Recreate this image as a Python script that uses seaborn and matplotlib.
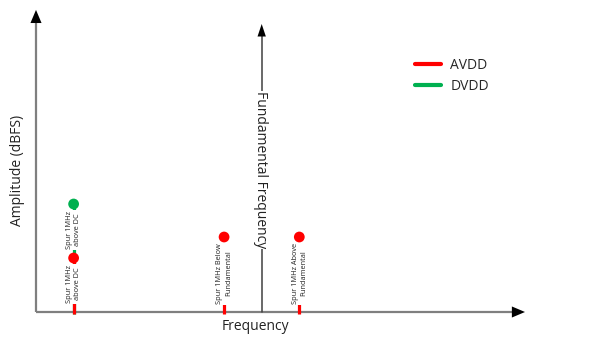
import matplotlib
matplotlib.use("Agg")
import matplotlib.pyplot as plt
from matplotlib.lines import Line2D
import pandas as pd
import seaborn as sns

sns.set_style("white")
plt.rcParams["font.family"] = ["Open Sans", "DejaVu Sans"]

# Spur positions (MHz from DC) and relative amplitudes, per supply rail
spur_freq = [1, 1, 5, 7]
spur_amp = [18, 36, 25, 25]
spur_supply = ["AVDD", "DVDD", "AVDD", "AVDD"]
spur_label = ["Spur 1MHz\nabove DC", "Spur 1MHz\nabove DC",
              "Spur 1MHz Below\nFundamental", "Spur 1MHz Above\nFundamental"]

fund_freq = 6
fund_amp = 96
freq_max = 13
amp_max = 100.7

supply_colors = {"AVDD": "#FF0000", "DVDD": "#00B050"}

df = pd.DataFrame({"freq": spur_freq, "amp": spur_amp,
                   "supply": spur_supply, "label": spur_label})

fig = plt.figure(figsize=(6.08, 3.45), dpi=100)
ax = fig.add_axes([36 / 608, 33 / 345, 489 / 608, 300 / 345])
ax.set_xlim(0, freq_max)
ax.set_ylim(0, 100)
ax.axis("off")

axis_grey = "#7F7F7F"

# Axes drawn as arrows
ax.plot([0, freq_max - 0.3], [0, 0], color=axis_grey, lw=1.6, clip_on=False,
        zorder=2, solid_capstyle="butt")
ax.plot([0, 0], [0, amp_max - 3], color=axis_grey, lw=1.6, clip_on=False,
        zorder=2, solid_capstyle="butt")
head = dict(arrowstyle="-|>,head_length=0.9,head_width=0.38", color="black",
            lw=0, mutation_scale=10.5, shrinkA=0, shrinkB=0)
ax.annotate("", xy=(freq_max, 0), xytext=(freq_max - 0.4, 0),
            arrowprops=head, annotation_clip=False)
ax.annotate("", xy=(0, amp_max), xytext=(0, amp_max - 5),
            arrowprops=head, annotation_clip=False)

# Fundamental
ax.plot([fund_freq, fund_freq], [0, fund_amp - 2], color="#404040", lw=1.1,
        zorder=2, clip_on=False)
fhead = dict(arrowstyle="-|>,head_length=0.9,head_width=0.3", color="black",
             lw=0, mutation_scale=10, shrinkA=0, shrinkB=0)
ax.annotate("", xy=(fund_freq, fund_amp), xytext=(fund_freq, fund_amp - 4),
            arrowprops=fhead, annotation_clip=False)
ax.text(fund_freq - 0.03, 47.3, "Fundamental Frequency", rotation=-90,
        ha="center", va="center", fontsize=10, color="#222222", zorder=3,
        bbox=dict(facecolor="white", edgecolor="none", pad=0.5))

# Stems: taller spurs first so lower ones sit on top
order = df.sort_values("amp", ascending=False).index
for i in order:
    row = df.loc[i]
    ax.vlines(row["freq"], -0.5, row["amp"], color=supply_colors[row["supply"]],
              lw=2.3, zorder=4 + (100 - row["amp"]) / 100, clip_on=False)

# Labels between the stem base (or the spur below) and the marker
for i, row in df.iterrows():
    below = df[(df["freq"] == row["freq"]) & (df["amp"] < row["amp"])]["amp"]
    lower = below.max() if len(below) else 0
    mid = (lower + row["amp"]) / 2 + 0.3
    ax.text(row["freq"], mid, row["label"], rotation=90, ha="center",
            va="center", fontsize=5.3, color="#222222", zorder=6,
            linespacing=1.3,
            bbox=dict(facecolor="white", edgecolor="none", pad=0.6))

sns.scatterplot(data=df, x="freq", y="amp", hue="supply", palette=supply_colors,
                s=60, edgecolor="none", legend=False, ax=ax, zorder=7,
                clip_on=False)
ax.axis("off")

fig.text(255 / 608, 1 - 327 / 345, "Frequency", ha="center", va="center",
         fontsize=10, color="#222222")
fig.text(18 / 608, 1 - 170 / 345, "Amplitude (dBFS)", ha="center", va="center",
         rotation=90, fontsize=10, color="#222222")

handles = [Line2D([], [], color=supply_colors[k], lw=3) for k in supply_colors]
fig.legend(handles, list(supply_colors), loc="upper left",
           bbox_to_anchor=(415 / 608, 1 - 58 / 345), frameon=False,
           borderaxespad=0, borderpad=0, handlelength=1.9, handletextpad=0.65,
           labelspacing=0.45, fontsize=10)

fig.savefig("out.png", dpi=100)
